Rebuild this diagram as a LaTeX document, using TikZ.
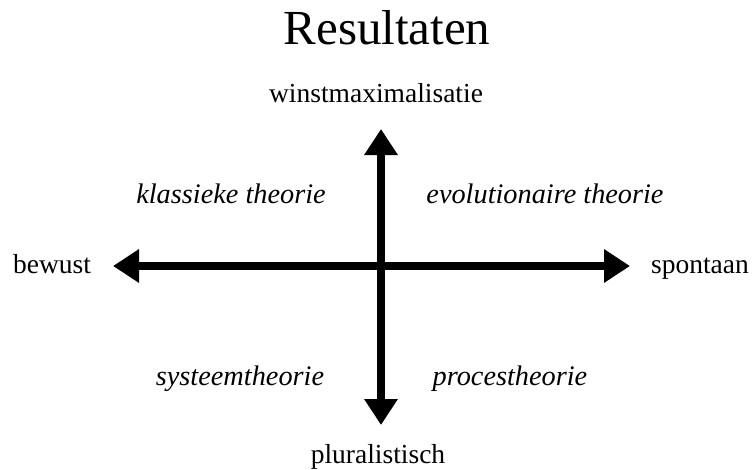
\documentclass[tikz,border=0pt]{standalone}
\usepackage{fontspec}
\setmainfont{Liberation Serif}
\usetikzlibrary{arrows.meta}
\begin{document}
\begin{tikzpicture}[x=1pt,y=-1pt,
  lbl/.style={anchor=base,inner sep=0pt,font=\fontsize{27.5}{33}\selectfont},
  ilbl/.style={anchor=base,inner sep=0pt,font=\fontsize{28.3}{34}\selectfont\itshape},
  ttl/.style={anchor=base,inner sep=0pt,font=\fontsize{49}{57}\selectfont},
  axis/.style={line width=7.5pt,{Triangle[width=32pt,length=26pt]}-{Triangle[width=32pt,length=26pt]}}]
\useasboundingbox (0,0) rectangle (753,469);
\node[ttl] (title) at (387,44) {Resultaten};
\node[lbl] (top) at (376,102) {winstmaximalisatie};
\node[lbl] (bot) at (378,463) {pluralistisch};
\node[lbl] (left) at (52,273) {bewust};
\node[lbl] (right) at (700,273) {spontaan};
\node[ilbl] (q1) at (231,203) {klassieke theorie};
\node[ilbl] (q2) at (545,203) {evolutionaire theorie};
\node[ilbl] (q3) at (240,385) {systeemtheorie};
\node[ilbl] (q4) at (510,385) {procestheorie};
\coordinate (L) at (113,266);
\coordinate (R) at (630,266);
\coordinate (T) at (381,129);
\coordinate (B) at (381,425);
\draw[axis] (L) -- (R);
\draw[axis] (T) -- (B);
\end{tikzpicture}
\end{document}
